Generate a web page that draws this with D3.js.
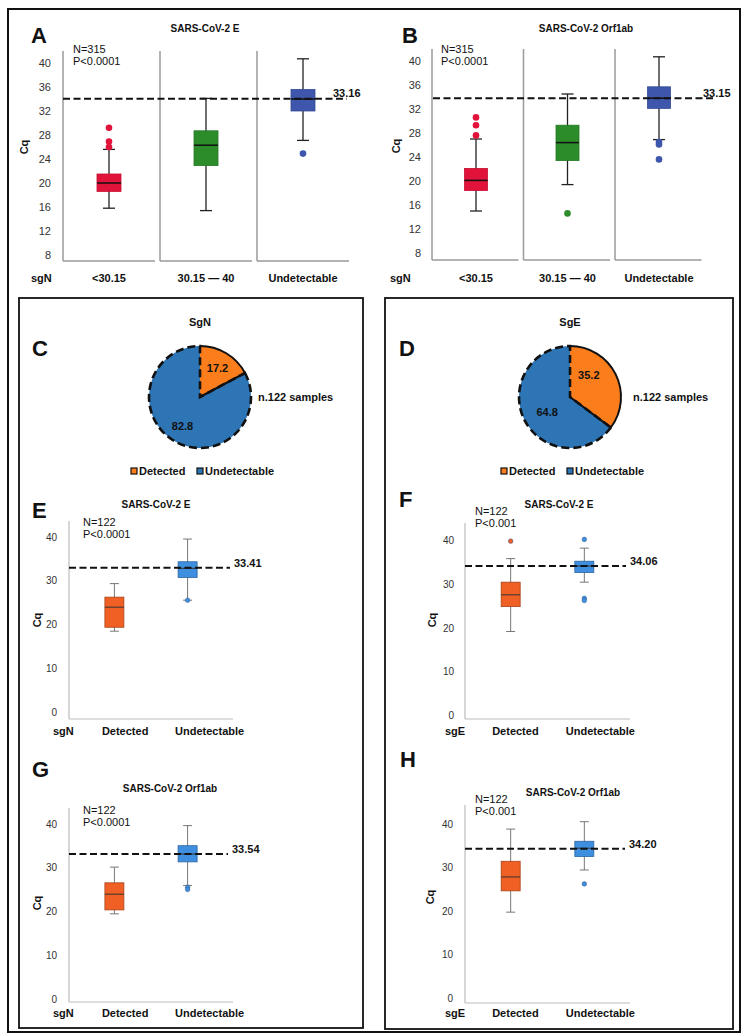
<!DOCTYPE html>
<html><head><meta charset="utf-8">
<script src="https://cdn.jsdelivr.net/npm/d3@7"></script>
<style>
html,body{margin:0;padding:0;background:#fff;}
svg text{font-family:"Liberation Sans",Arial,Helvetica,sans-serif;}
</style></head>
<body>
<svg id="chart" width="746" height="1036"></svg>
<script>
// ---------------- DATA ----------------
const catsAB = ["<30.15", "30.15 — 40", "Undetectable"];
const catsEH = ["Detected", "Undetectable"];
const ticksAB = [8, 12, 16, 20, 24, 28, 32, 36, 40];
const ticksEH = [0, 10, 20, 30, 40];
const coloursAB = ["#e2133b", "#2c8c2a", "#3e56ac"];
const coloursEH = ["#f05f24", "#3f8fe0"];

// box stats: [lower whisker, Q1, median, Q3, upper whisker]
const statsA = [[15.8, 18.6, 20.0, 21.5, 25.6], [15.4, 22.9, 26.3, 28.7, 34.1], [27.1, 32.0, 34.0, 35.6, 40.7]];
const outA = [[29.2, 26.9, 26.0], [], [24.9]];
const statsB = [[15.0, 18.4, 20.1, 22.1, 27.0], [19.4, 23.4, 26.4, 29.3, 34.5], [26.9, 32.1, 33.8, 35.7, 40.7]];
const outB = [[30.6, 29.3, 27.6], [14.6], [26.5, 26.1, 23.6]];
const statsE = [[18.5, 19.4, 24.0, 26.3, 29.4], [25.6, 30.8, 32.9, 34.4, 39.6]];
const outE = [[], [25.6]];
const statsF = [[19.2, 24.9, 27.6, 30.5, 35.9], [30.5, 32.7, 34.2, 35.3, 38.3]];
const outF = [[39.9], [40.3, 26.8, 26.3]];
const statsG = [[19.5, 20.4, 24.0, 26.6, 30.2], [26.0, 31.4, 33.2, 35.1, 39.7]];
const outG = [[], [25.6, 25.1]];
const statsH = [[19.8, 24.7, 27.9, 31.5, 38.9], [29.5, 32.6, 34.5, 36.1, 40.6]];
const outH = [[], [26.3]];

// threshold line (position) and its printed label
const thresholdPos = { A: 34.06, B: 33.8, E: 33.05, F: 34.2, G: 33.2, H: 34.4 };
const thresholdLabel = { A: "33.16", B: "33.15", E: "33.41", F: "34.06", G: "33.54", H: "34.20" };

// pies
const pieCats = ["Detected", "Undetectable"];
const pieC = [17.2, 82.8];
const pieD = [35.2, 64.8];
const pieColours = ["#fb7d1c", "#2e75b6"];

// ---------------- DRAW ----------------
const svg = d3.select("#chart");
const FONT = '"Liberation Sans",Arial,Helvetica,sans-serif';

function txt(x, y, s, opt = {}) {
  return svg.append("text").attr("x", x).attr("y", y).text(s)
    .attr("font-size", opt.size || 11)
    .attr("font-weight", opt.bold ? "bold" : "normal")
    .attr("text-anchor", opt.anchor || "start")
    .attr("fill", opt.fill || "#111");
}
function vtxt(x, y, s) {
  svg.append("text").attr("transform", `translate(${x},${y}) rotate(-90)`)
    .attr("text-anchor", "middle").attr("dy", "0.35em")
    .attr("font-size", 11).attr("font-weight", "bold").attr("fill", "#111").text(s);
}

// frames
svg.append("rect").attr("x", 8).attr("y", 9).attr("width", 732).attr("height", 1023)
  .attr("fill", "none").attr("stroke", "#111").attr("stroke-width", 2);
svg.append("rect").attr("x", 19).attr("y", 298).attr("width", 344).attr("height", 730)
  .attr("fill", "none").attr("stroke", "#111").attr("stroke-width", 1.8);
svg.append("rect").attr("x", 385).attr("y", 298).attr("width", 348).attr("height", 731)
  .attr("fill", "none").attr("stroke", "#111").attr("stroke-width", 1.8);

// ------- panels A / B (faceted) -------
function facetPanel(cfg, stats, outs) {
  const y = d3.scaleLinear().domain([8, 40]).range([cfg.y8, cfg.y40]);
  const x = d3.scaleBand().domain(catsAB).range([cfg.x0, cfg.x1]).paddingInner(0);
  const g = svg.append("g");
  catsAB.forEach(c => {
    g.append("line").attr("x1", x(c)).attr("x2", x(c)).attr("y1", cfg.top).attr("y2", cfg.bottom)
      .attr("stroke", "#9a9a9a").attr("stroke-width", 1.5);
    g.append("line").attr("x1", x(c)).attr("x2", x(c) + x.bandwidth() - cfg.gap).attr("y1", cfg.bottom).attr("y2", cfg.bottom)
      .attr("stroke", "#9a9a9a").attr("stroke-width", 1.5);
  });
  ticksAB.forEach(t => txt(cfg.tickX, y(t), t, { size: 11, anchor: "end", fill: "#333" }).attr("dy", "0.35em"));
  vtxt(cfg.cqX, cfg.cqY, "Cq");
  const bw = cfg.bw;
  catsAB.forEach((c, i) => {
    const s = stats[i];
    const cx = x(c) + cfg.off;
    g.append("line").attr("x1", cx).attr("x2", cx).attr("y1", y(s[0])).attr("y2", y(s[4])).attr("stroke", "#222").attr("stroke-width", 1.3);
    [s[0], s[4]].forEach(v => g.append("line").attr("x1", cx - 6).attr("x2", cx + 6).attr("y1", y(v)).attr("y2", y(v)).attr("stroke", "#222").attr("stroke-width", 1.3));
    g.append("rect").attr("x", cx - bw / 2).attr("width", bw).attr("y", y(s[3])).attr("height", y(s[1]) - y(s[3]))
      .attr("fill", coloursAB[i]).attr("stroke", d3.color(coloursAB[i]).darker(0.4)).attr("stroke-width", 0.8);
    g.append("line").attr("x1", cx - bw / 2).attr("x2", cx + bw / 2).attr("y1", y(s[2])).attr("y2", y(s[2])).attr("stroke", "#111").attr("stroke-width", 1.5);
    outs[i].forEach(v => g.append("circle").attr("cx", cx).attr("cy", y(v)).attr("r", 3.3).attr("fill", coloursAB[i]));
  });
  const ty = y(thresholdPos[cfg.key]);
  g.append("line").attr("x1", cfg.dash0).attr("x2", cfg.dash1).attr("y1", ty).attr("y2", ty)
    .attr("stroke", "#111").attr("stroke-width", 2).attr("stroke-dasharray", "7,3.5");
  txt(cfg.thrX, ty - 1.5, thresholdLabel[cfg.key], { bold: true, size: 11 });
  txt(cfg.letterX, 43, cfg.key, { bold: true, size: 22 });
  txt(cfg.titleX, 32, cfg.title, { bold: true, size: 10, anchor: "middle" });
  txt(cfg.nX, 53, "N=315", { size: 11 });
  txt(cfg.nX, 65, "P<0.0001", { size: 11 });
  txt(cfg.sgX, 282, "sgN", { bold: true });
  catsAB.forEach(c => txt(x(c) + cfg.off, 282, c, { bold: true, anchor: "middle" }));
}

facetPanel({ key: "A", x0: 63, x1: 354, gap: 5, off: 46, y8: 255, y40: 63, top: 51, bottom: 261, bw: 24,
  tickX: 51, cqX: 24, cqY: 147, dash0: 63, dash1: 347, thrX: 333, letterX: 31, titleX: 205,
  title: "SARS-CoV-2 E", nX: 73, sgX: 31 }, statsA, outA);
facetPanel({ key: "B", x0: 432, x1: 706.5, gap: 5, off: 44, y8: 253, y40: 61, top: 49, bottom: 260, bw: 23,
  tickX: 421, cqX: 396, cqY: 146, dash0: 433, dash1: 716, thrX: 703, letterX: 402, titleX: 586,
  title: "SARS-CoV-2 Orf1ab", nX: 441, sgX: 390 }, statsB, outB);

// ------- pies C / D -------
function piePanel(cfg, vals) {
  const pie = d3.pie().sort(null).value(d => d)(vals);
  const arc = d3.arc().innerRadius(0).outerRadius(cfg.r);
  const labelArc = d3.arc().innerRadius(cfg.lr).outerRadius(cfg.lr);
  const g = svg.append("g").attr("transform", `translate(${cfg.cx},${cfg.cy})`);
  g.selectAll("path.f").data(pie).join("path").attr("d", arc).attr("fill", (d, i) => pieColours[i]);
  // undetectable slice: dashed outline
  g.append("path").attr("d", arc(pie[1])).attr("fill", "none").attr("stroke", "#111")
    .attr("stroke-width", 2.6).attr("stroke-dasharray", "8,4");
  // detected slice: solid outline on arc and closing edge
  const p = d3.path();
  const a0 = pie[0].startAngle - Math.PI / 2, a1 = pie[0].endAngle - Math.PI / 2;
  p.moveTo(cfg.r * Math.cos(a0), cfg.r * Math.sin(a0));
  p.arc(0, 0, cfg.r, a0, a1);
  p.lineTo(0, 0);
  g.append("path").attr("d", p.toString()).attr("fill", "none").attr("stroke", "#111").attr("stroke-width", 2);
  pie.forEach((d, i) => {
    const c = labelArc.centroid(d);
    g.append("text").attr("x", c[0] + cfg.ldx[i]).attr("y", c[1] + cfg.ldy[i]).attr("dy", "0.35em")
      .attr("text-anchor", "middle").attr("font-size", 11).attr("font-weight", "bold").attr("fill", "#111")
      .text(vals[i].toFixed(1));
  });
  txt(cfg.cx, 326, cfg.title, { bold: true, anchor: "middle" });
  txt(cfg.letterX, 356, cfg.key, { bold: true, size: 22 });
  txt(cfg.nsX, 401, "n.122 samples", { bold: true });
  // legend
  pieCats.forEach((c, i) => {
    svg.append("rect").attr("x", cfg.legX[i]).attr("y", 468).attr("width", 6).attr("height", 6)
      .attr("fill", pieColours[i]).attr("stroke", "#111").attr("stroke-width", 1.2);
    txt(cfg.legX[i] + 8, 475, c, { bold: true });
  });
}
piePanel({ key: "C", cx: 200, cy: 397, r: 51, lr: 34, ldx: [0, 0], ldy: [0, 0], title: "SgN", letterX: 32, nsX: 258, legX: [131, 197] }, pieC);
piePanel({ key: "D", cx: 570, cy: 397, r: 51, lr: 30, ldx: [-8, 4], ldy: [-8, 2], title: "SgE", letterX: 399, nsX: 633, legX: [501, 567] }, pieD);

// ------- panels E-H -------
function boxPanel(cfg, stats, outs) {
  const y = d3.scaleLinear().domain([0, 40]).range([cfg.y0, cfg.y40]);
  const x = d3.scalePoint().domain(catsEH).range([cfg.ax0, cfg.ax1]).padding(0.62);
  const g = svg.append("g");
  g.append("line").attr("x1", cfg.ax0).attr("x2", cfg.ax0).attr("y1", cfg.top).attr("y2", cfg.bottom).attr("stroke", "#bdbdbd").attr("stroke-width", 1.2);
  g.append("line").attr("x1", cfg.ax0).attr("x2", cfg.ax1).attr("y1", cfg.bottom).attr("y2", cfg.bottom).attr("stroke", "#bdbdbd").attr("stroke-width", 1.2);
  ticksEH.forEach(t => txt(cfg.tickX, y(t), t, { size: 10, anchor: "end", fill: "#333" }).attr("dy", "0.35em"));
  vtxt(cfg.cqX, cfg.cqY, "Cq");
  const bw = 19;
  catsEH.forEach((c, i) => {
    const s = stats[i], cx = x(c);
    g.append("line").attr("x1", cx).attr("x2", cx).attr("y1", y(s[0])).attr("y2", y(s[4])).attr("stroke", "#777").attr("stroke-width", 1);
    [s[0], s[4]].forEach(v => g.append("line").attr("x1", cx - 4.5).attr("x2", cx + 4.5).attr("y1", y(v)).attr("y2", y(v)).attr("stroke", "#777").attr("stroke-width", 1));
    g.append("rect").attr("x", cx - bw / 2).attr("width", bw).attr("y", y(s[3])).attr("height", y(s[1]) - y(s[3]))
      .attr("fill", coloursEH[i]).attr("stroke", d3.color(coloursEH[i]).darker(1)).attr("stroke-width", 0.8);
    g.append("line").attr("x1", cx - bw / 2).attr("x2", cx + bw / 2).attr("y1", y(s[2])).attr("y2", y(s[2])).attr("stroke", "#333").attr("stroke-width", 1);
    outs[i].forEach(v => g.append("circle").attr("cx", cx).attr("cy", y(v)).attr("r", 2.3).attr("fill", coloursEH[i]).attr("stroke", "#3a5a8a").attr("stroke-width", 0.5));
  });
  const ty = y(thresholdPos[cfg.key]);
  g.append("line").attr("x1", cfg.ax0).attr("x2", cfg.dash1).attr("y1", ty).attr("y2", ty)
    .attr("stroke", "#111").attr("stroke-width", 2).attr("stroke-dasharray", "7,3.5");
  txt(cfg.dash1 + 4, ty - 1, thresholdLabel[cfg.key], { bold: true });
  txt(cfg.letterX, cfg.letterY, cfg.key, { bold: true, size: 22 });
  txt(cfg.titleX, cfg.titleY, cfg.title, { bold: true, size: 10, anchor: "middle" });
  txt(cfg.nX, cfg.nY, "N=122", { size: 11 });
  txt(cfg.nX, cfg.nY + 12, cfg.p, { size: 11 });
  txt(cfg.sgX, cfg.labY, cfg.sg, { bold: true });
  catsEH.forEach(c => txt(x(c) - bw / 2 + cfg.labOff, cfg.labY, c, { bold: true }));
}

boxPanel({ key: "E", ax0: 69, ax1: 233, y0: 712, y40: 537.3, top: 521, bottom: 719, tickX: 57, cqX: 37, cqY: 620,
  dash1: 230, letterX: 32, letterY: 518, titleX: 156, titleY: 508, title: "SARS-CoV-2 E", nX: 83, nY: 526,
  p: "P<0.0001", sg: "sgN", sgX: 53, labY: 735, labOff: -3 }, statsE, outE);
boxPanel({ key: "F", ax0: 465, ax1: 630, y0: 715.3, y40: 540.7, top: 523, bottom: 719, tickX: 454, cqX: 432, cqY: 620,
  dash1: 626, letterX: 399, letterY: 507, titleX: 559, titleY: 508, title: "SARS-CoV-2 E", nX: 475, nY: 515,
  p: "P<0.001", sg: "sgE", sgX: 445, labY: 735, labOff: -9 }, statsF, outF);
boxPanel({ key: "G", ax0: 69, ax1: 233, y0: 999, y40: 824.3, top: 808, bottom: 1002, tickX: 57, cqX: 37, cqY: 903,
  dash1: 228, letterX: 32, letterY: 777, titleX: 170, titleY: 792, title: "SARS-CoV-2 Orf1ab", nX: 83, nY: 814,
  p: "P<0.0001", sg: "sgN", sgX: 53, labY: 1017, labOff: -3 }, statsG, outG);
boxPanel({ key: "H", ax0: 465, ax1: 630, y0: 998.3, y40: 824.3, top: 805, bottom: 1003, tickX: 453, cqX: 430, cqY: 897,
  dash1: 625, letterX: 400, letterY: 767, titleX: 573, titleY: 796, title: "SARS-CoV-2 Orf1ab", nX: 475, nY: 803,
  p: "P<0.001", sg: "sgE", sgX: 445, labY: 1017, labOff: -9 }, statsH, outH);
</script>
</body></html>
